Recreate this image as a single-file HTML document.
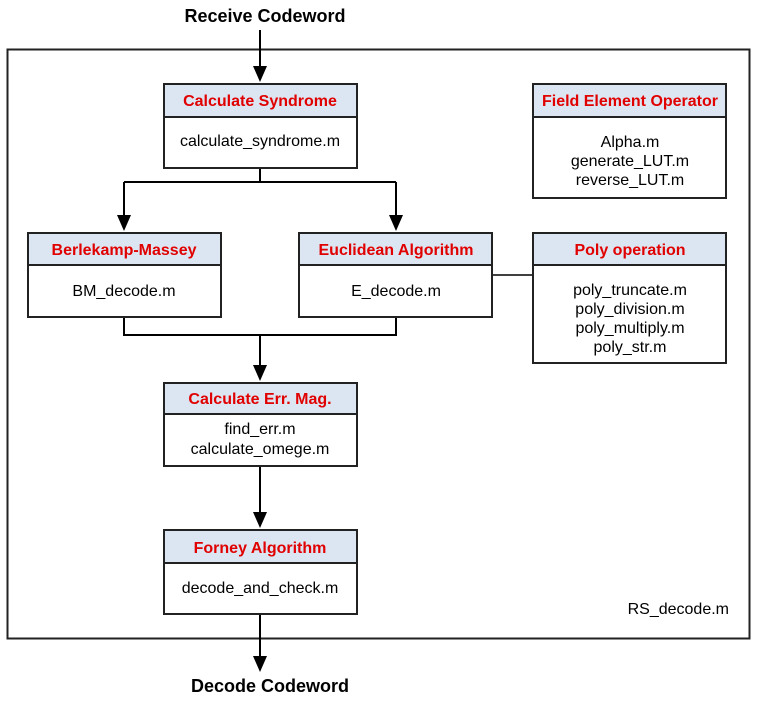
<!DOCTYPE html>
<html><head><meta charset="utf-8"><style>
html,body{margin:0;padding:0;background:#fff}
svg{display:block}
text{font-family:"Liberation Sans",Arial,sans-serif}
.h{fill:#e00000;font-weight:bold;font-size:16px}
.b{fill:#000;font-size:16px}
</style></head><body>
<svg width="758" height="706" viewBox="0 0 758 706" xmlns="http://www.w3.org/2000/svg">
<rect x="7.5" y="49.5" width="742" height="589" fill="none" stroke="#222" stroke-width="2"/>
<text x="265" y="22" text-anchor="middle" font-weight="bold" font-size="18">Receive Codeword</text>
<text x="270" y="692" text-anchor="middle" font-weight="bold" font-size="18">Decode Codeword</text>
<text x="729" y="614" text-anchor="end" class="b">RS_decode.m</text>
<g stroke="#000" stroke-width="2" fill="none">
<path d="M260,30 V68"/><path d="M253,66 L267,66 L260,82 z" fill="#000" stroke="none"/>
<path d="M260,168 V182 M124,182 H396 M124,182 V217 M396,182 V217"/>
<path d="M117,215 L131,215 L124,231 z M389,215 L403,215 L396,231 z" fill="#000" stroke="none"/>
<path d="M124,317 V335 H396 V317 M260,335 V367"/>
<path d="M253,365 L267,365 L260,381 z" fill="#000" stroke="none"/>
<path d="M260,466 V514"/>
<path d="M253,512 L267,512 L260,528 z" fill="#000" stroke="none"/>
<path d="M260,614 V660"/>
<path d="M253,656 L267,656 L260,672 z" fill="#000" stroke="none"/>
<path d="M492,275 H533" stroke-width="1.5"/>
</g>
<g stroke="#222" stroke-width="2">
<rect x="164" y="84" width="193" height="84" fill="#fff"/><rect x="164" y="84" width="193" height="33" fill="#dce6f2"/>
<rect x="28" y="233" width="193" height="84" fill="#fff"/><rect x="28" y="233" width="193" height="32" fill="#dce6f2"/>
<rect x="299" y="233" width="193" height="84" fill="#fff"/><rect x="299" y="233" width="193" height="32" fill="#dce6f2"/>
<rect x="533" y="84" width="193" height="114" fill="#fff"/><rect x="533" y="84" width="193" height="33" fill="#dce6f2"/>
<rect x="533" y="233" width="193" height="130" fill="#fff"/><rect x="533" y="233" width="193" height="32" fill="#dce6f2"/>
<rect x="164" y="383" width="193" height="83" fill="#fff"/><rect x="164" y="383" width="193" height="31" fill="#dce6f2"/>
<rect x="164" y="530" width="193" height="84" fill="#fff"/><rect x="164" y="530" width="193" height="33" fill="#dce6f2"/>
</g>
<g text-anchor="middle">
<text x="260" y="106" class="h">Calculate Syndrome</text>
<text x="260" y="146" class="b">calculate_syndrome.m</text>
<text x="124" y="255" class="h">Berlekamp-Massey</text>
<text x="124" y="296" class="b">BM_decode.m</text>
<text x="396" y="255" class="h">Euclidean Algorithm</text>
<text x="396" y="296" class="b">E_decode.m</text>
<text x="630" y="106" class="h">Field Element Operator</text>
<text x="630" y="147" class="b">Alpha.m</text>
<text x="630" y="166" class="b">generate_LUT.m</text>
<text x="630" y="185" class="b">reverse_LUT.m</text>
<text x="630" y="255" class="h">Poly operation</text>
<text x="630" y="295" class="b">poly_truncate.m</text>
<text x="630" y="314" class="b">poly_division.m</text>
<text x="630" y="333" class="b">poly_multiply.m</text>
<text x="630" y="352" class="b">poly_str.m</text>
<text x="260" y="404" class="h">Calculate Err. Mag.</text>
<text x="260" y="434" class="b">find_err.m</text>
<text x="260" y="454" class="b">calculate_omege.m</text>
<text x="260" y="553" class="h">Forney Algorithm</text>
<text x="260" y="593" class="b">decode_and_check.m</text>
</g>
</svg>
</body></html>
